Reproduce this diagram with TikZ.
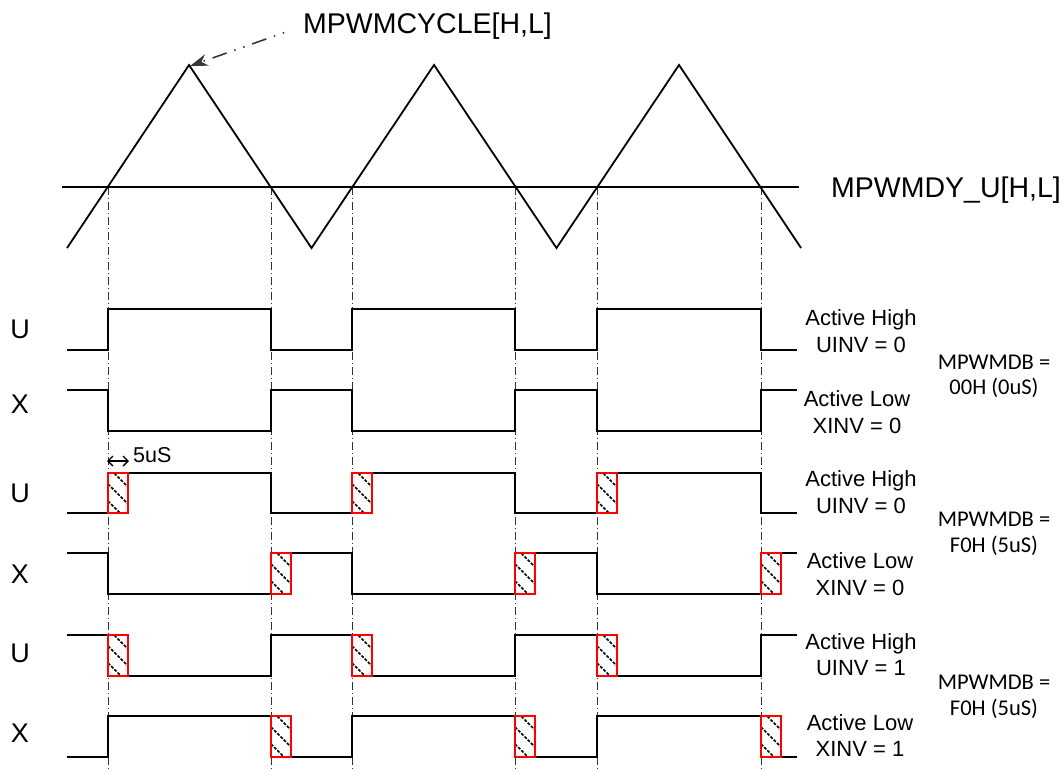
\documentclass[tikz,border=0pt]{standalone}
\usepackage{fontspec}
\setmainfont{Liberation Sans}
\newfontfamily\calfont{Carlito}
\usetikzlibrary{arrows.meta}
\newcommand\dtbox[3]{%
  \begin{scope}
    \clip (#1,#2) rectangle (#1+20,#3);
    \foreach \k in {-23,-6,11,28} \draw[hatch] (#1,#2+\k) -- ++(24,24);
  \end{scope}
  \draw[dbframe] (#1,#2) rectangle (#1+20,#3);
}
\begin{document}
\begin{tikzpicture}[x=1pt,y=-1pt,
  wave/.style={line width=2pt, line join=miter},
  tri/.style={line width=1.8pt},
  guide/.style={line width=0.7pt, black!80, dash pattern=on 8pt off 3pt on 1pt off 3pt},
  hatch/.style={line width=1.5pt, dash pattern=on 3pt off 1.5pt},
  dbframe/.style={draw=red, line width=1.4pt},
  bigtxt/.style={font=\fontsize{28.5}{34}\selectfont, inner sep=0pt},
  rowlbl/.style={font=\fontsize{27}{32}\selectfont, inner sep=0pt, anchor=base},
  modetxt/.style={font=\fontsize{22}{27}\selectfont, inner sep=0pt, anchor=base},
  dbtxt/.style={font=\calfont\fontsize{22.5}{27}\selectfont, inner sep=0pt, anchor=base},
  cycarrow/.style={draw=black!78, line width=1.6pt,
    dash pattern=on 1.5pt off 8pt on 1.5pt off 8pt on 15pt off 8pt,
    -{Stealth[length=18pt,width=12pt,fill=black!78]}},
  dtarrow/.style={line width=1.4pt, {Straight Barb[length=5pt,width=10pt]}-{Straight Barb[length=5pt,width=10pt]}}
]
\useasboundingbox (0,0) rectangle (1063,771);

% guide lines
\foreach \gx in {108,271,352,515,597,761}
  \draw[guide] (\gx,187) -- (\gx,771);

% carrier and duty line
\draw[tri] (67,248) -- (189,65) -- (311.5,248) -- (434,65) -- (556.5,248) -- (679,65) -- (801,248);
\draw[tri] (62,187) -- (799,187);
\coordinate (peak1) at (190,66);

% labels top
\node[bigtxt, anchor=base] (cyc) at (427.5,33.3) {MPWMCYCLE[H,L]};
\node[bigtxt, anchor=base] (dy) at (946,197) {MPWMDY\_U[H,L]};
\draw[cycarrow, shorten <=20pt] (cyc.west) -- (peak1);

% row labels
\node[rowlbl] (lU1) at (20,338) {U};
\node[rowlbl] (lX1) at (20,413) {X};
\node[rowlbl] (lU2) at (20,502) {U};
\node[rowlbl] (lX2) at (20,583) {X};
\node[rowlbl] (lU3) at (20,662) {U};
\node[rowlbl] (lX3) at (20,742) {X};

% U1 / X1 (no dead time)
\draw[wave] (67,350) -- (108,350) -- (108,309) -- (271,309) -- (271,350) -- (352,350) -- (352,309) -- (515,309) -- (515,350) -- (597,350) -- (597,309) -- (761,309) -- (761,350) -- (797,350);
\draw[wave] (67,390) -- (108,390) -- (108,431) -- (271,431) -- (271,390) -- (352,390) -- (352,431) -- (515,431) -- (515,390) -- (597,390) -- (597,431) -- (761,431) -- (761,390) -- (797,390);

% U2 / X2 (dead time, non inverted)
\draw[wave] (67,513) -- (128,513) -- (128,473) -- (271,473) -- (271,513) -- (372,513) -- (372,473) -- (515,473) -- (515,513) -- (617,513) -- (617,473) -- (761,473) -- (761,513) -- (797,513);
\draw[wave] (67,553) -- (108,553) -- (108,594) -- (291,594) -- (291,553) -- (352,553) -- (352,594) -- (535,594) -- (535,553) -- (597,553) -- (597,594) -- (781,594) -- (781,553) -- (797,553);
\dtbox{108}{473}{513}\dtbox{352}{473}{513}\dtbox{597}{473}{513}
\dtbox{271}{553}{594}\dtbox{515}{553}{594}\dtbox{761}{553}{594}

% U3 / X3 (dead time, inverted)
\draw[wave] (67,635) -- (128,635) -- (128,676) -- (271,676) -- (271,635) -- (372,635) -- (372,676) -- (515,676) -- (515,635) -- (617,635) -- (617,676) -- (761,676) -- (761,635) -- (797,635);
\draw[wave] (67,757) -- (108,757) -- (108,716) -- (291,716) -- (291,757) -- (352,757) -- (352,716) -- (535,716) -- (535,757) -- (597,757) -- (597,716) -- (781,716) -- (781,757) -- (797,757);
\dtbox{108}{635}{676}\dtbox{352}{635}{676}\dtbox{597}{635}{676}
\dtbox{271}{716}{757}\dtbox{515}{716}{757}\dtbox{761}{716}{757}

% 5uS marker
\coordinate (dtA) at (107,461);
\coordinate (dtB) at (129,461);
\draw[dtarrow] (dtA) -- (dtB);
\node[font=\fontsize{21.5}{25}\selectfont, inner sep=0pt, anchor=base west] (t5) at (133,462.7) {5uS};

% mode labels
\node[modetxt] (g1a) at (861,325) {Active High};
\node[modetxt] (g1b) at (861,352) {UINV = 0};
\node[modetxt] (g1c) at (857,406) {Active Low};
\node[modetxt] (g1d) at (857,433) {XINV = 0};
\node[dbtxt] (d1a) at (994,369) {MPWMDB =};
\node[dbtxt] (d1b) at (994,394) {00H (0uS)};

\node[modetxt] (g2a) at (861,486) {Active High};
\node[modetxt] (g2b) at (861,513) {UINV = 0};
\node[modetxt] (g2c) at (860,568) {Active Low};
\node[modetxt] (g2d) at (860,595) {XINV = 0};
\node[dbtxt] (d2a) at (994,526) {MPWMDB =};
\node[dbtxt] (d2b) at (994,552) {F0H (5uS)};

\node[modetxt] (g3a) at (861,649) {Active High};
\node[modetxt] (g3b) at (861,675) {UINV = 1};
\node[modetxt] (g3c) at (860,730) {Active Low};
\node[modetxt] (g3d) at (860,756) {XINV = 1};
\node[dbtxt] (d3a) at (994,689) {MPWMDB =};
\node[dbtxt] (d3b) at (994,715) {F0H (5uS)};
\end{tikzpicture}
\end{document}
